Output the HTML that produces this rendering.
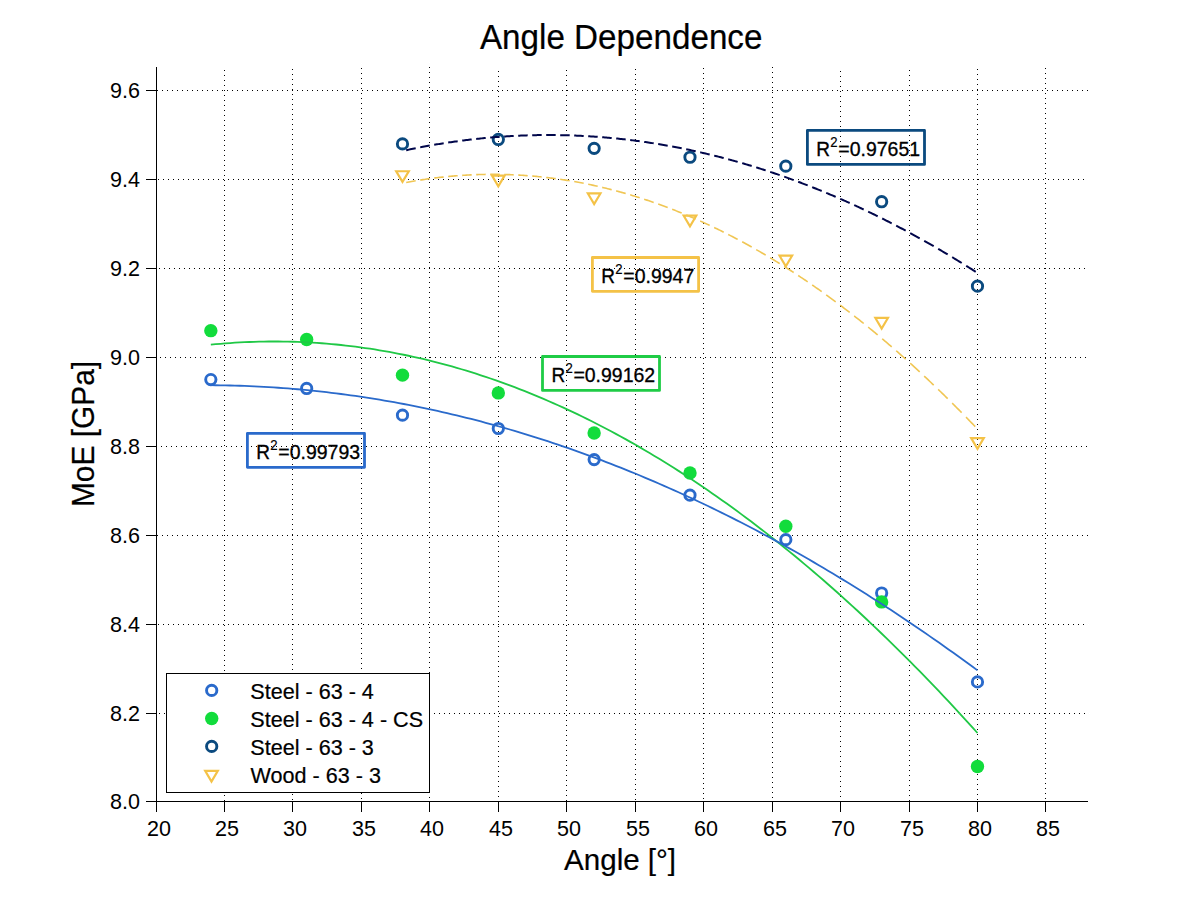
<!DOCTYPE html><html><head><meta charset="utf-8"><style>html,body{margin:0;padding:0;background:#fff;}svg{display:block;font-family:"Liberation Sans",sans-serif;} .b{stroke:#000;stroke-width:0.3px;} .m{stroke:#000;stroke-width:0.2px;}</style></head><body>
<svg width="1201" height="901" viewBox="0 0 1201 901">
<rect width="1201" height="901" fill="#fff"/>
<path d="M224.5 70V801 M292.5 69V801 M361.5 68V801 M429.5 67V801 M498.5 71V801 M566.5 70V801 M635.5 69V801 M703.5 68V801 M772.5 67V801 M840.5 71V801 M909.5 70V801 M977.5 69V801 M1045.5 68V801" stroke="#000" stroke-width="1" stroke-dasharray="1 4" fill="none"/>
<path d="M159 713.5H1088 M158 624.5H1088 M157 535.5H1088 M161 446.5H1088 M160 357.5H1088 M159 268.5H1088 M158 179.5H1088 M157 90.5H1088" stroke="#000" stroke-width="1" stroke-dasharray="1 4" fill="none"/>
<path d="M156.5 67V812 M146 801.5H1088 M156.5 801V812 M224.5 801V812 M292.5 801V812 M361.5 801V812 M429.5 801V812 M498.5 801V812 M566.5 801V812 M635.5 801V812 M703.5 801V812 M772.5 801V812 M840.5 801V812 M909.5 801V812 M977.5 801V812 M1045.5 801V812 M146 801.5H157 M146 713.5H157 M146 624.5H157 M146 535.5H157 M146 446.5H157 M146 357.5H157 M146 268.5H157 M146 179.5H157 M146 90.5H157" stroke="#000" stroke-width="1" fill="none"/>
<text transform="translate(147.00 836.20) scale(0.9800 1.0240)" font-size="22">20</text>
<text transform="translate(215.00 836.20) scale(0.9800 1.0240)" font-size="22">25</text>
<text transform="translate(283.00 836.20) scale(0.9800 1.0240)" font-size="22">30</text>
<text transform="translate(352.00 836.20) scale(0.9800 1.0240)" font-size="22">35</text>
<text transform="translate(420.00 836.20) scale(0.9800 1.0240)" font-size="22">40</text>
<text transform="translate(489.00 836.20) scale(0.9800 1.0240)" font-size="22">45</text>
<text transform="translate(557.00 836.20) scale(0.9800 1.0240)" font-size="22">50</text>
<text transform="translate(626.00 836.20) scale(0.9800 1.0240)" font-size="22">55</text>
<text transform="translate(694.00 836.20) scale(0.9800 1.0240)" font-size="22">60</text>
<text transform="translate(763.00 836.20) scale(0.9800 1.0240)" font-size="22">65</text>
<text transform="translate(831.00 836.20) scale(0.9800 1.0240)" font-size="22">70</text>
<text transform="translate(900.00 836.20) scale(0.9800 1.0240)" font-size="22">75</text>
<text transform="translate(968.00 836.20) scale(0.9800 1.0240)" font-size="22">80</text>
<text transform="translate(1035.99 836.20) scale(0.9800 1.0240)" font-size="22">85</text>
<text transform="translate(110.07 809.00) scale(0.9800 1.0350)" font-size="22">8.0</text>
<text transform="translate(110.07 721.00) scale(0.9800 1.0350)" font-size="22">8.2</text>
<text transform="translate(110.07 632.00) scale(0.9800 1.0350)" font-size="22">8.4</text>
<text transform="translate(110.07 543.00) scale(0.9800 1.0350)" font-size="22">8.6</text>
<text transform="translate(110.07 454.00) scale(0.9800 1.0350)" font-size="22">8.8</text>
<text transform="translate(110.07 365.00) scale(0.9800 1.0350)" font-size="22">9.0</text>
<text transform="translate(110.07 276.00) scale(0.9800 1.0350)" font-size="22">9.2</text>
<text transform="translate(110.07 187.00) scale(0.9800 1.0350)" font-size="22">9.4</text>
<text transform="translate(110.07 98.00) scale(0.9800 1.0350)" font-size="22">9.6</text>
<text transform="translate(479.97 48.90) scale(1.0380 1.0700)" font-size="32" class="m">Angle Dependence</text>
<text transform="translate(564.07 869.80) scale(1.0190 1.0400)" font-size="29" class="m">Angle [°]</text>
<text transform="translate(94.0 507.05) rotate(-90) scale(1.0308 1.05)" font-size="29" class="m">MoE [GPa]</text>
<circle cx="210.83" cy="379.57" r="5.15" fill="none" stroke="#2a6acb" stroke-width="2.9"/>
<circle cx="306.66" cy="388.47" r="5.15" fill="none" stroke="#2a6acb" stroke-width="2.9"/>
<circle cx="402.49" cy="415.15" r="5.15" fill="none" stroke="#2a6acb" stroke-width="2.9"/>
<circle cx="498.32" cy="428.49" r="5.15" fill="none" stroke="#2a6acb" stroke-width="2.9"/>
<circle cx="594.15" cy="459.61" r="5.15" fill="none" stroke="#2a6acb" stroke-width="2.9"/>
<circle cx="689.98" cy="495.18" r="5.15" fill="none" stroke="#2a6acb" stroke-width="2.9"/>
<circle cx="785.81" cy="539.65" r="5.15" fill="none" stroke="#2a6acb" stroke-width="2.9"/>
<circle cx="881.65" cy="593.01" r="5.15" fill="none" stroke="#2a6acb" stroke-width="2.9"/>
<circle cx="977.48" cy="681.94" r="5.15" fill="none" stroke="#2a6acb" stroke-width="2.9"/>
<circle cx="210.83" cy="330.66" r="6.7" fill="#12dc3c"/>
<circle cx="306.66" cy="339.55" r="6.7" fill="#12dc3c"/>
<circle cx="402.49" cy="375.13" r="6.7" fill="#12dc3c"/>
<circle cx="498.32" cy="392.91" r="6.7" fill="#12dc3c"/>
<circle cx="594.15" cy="432.93" r="6.7" fill="#12dc3c"/>
<circle cx="689.98" cy="472.95" r="6.7" fill="#12dc3c"/>
<circle cx="785.81" cy="526.31" r="6.7" fill="#12dc3c"/>
<circle cx="881.65" cy="601.90" r="6.7" fill="#12dc3c"/>
<circle cx="977.48" cy="766.43" r="6.7" fill="#12dc3c"/>
<circle cx="402.49" cy="143.90" r="5.15" fill="none" stroke="#0b4a7f" stroke-width="2.9"/>
<circle cx="498.32" cy="139.46" r="5.15" fill="none" stroke="#0b4a7f" stroke-width="2.9"/>
<circle cx="594.15" cy="148.35" r="5.15" fill="none" stroke="#0b4a7f" stroke-width="2.9"/>
<circle cx="689.98" cy="157.24" r="5.15" fill="none" stroke="#0b4a7f" stroke-width="2.9"/>
<circle cx="785.81" cy="166.14" r="5.15" fill="none" stroke="#0b4a7f" stroke-width="2.9"/>
<circle cx="881.65" cy="201.71" r="5.15" fill="none" stroke="#0b4a7f" stroke-width="2.9"/>
<circle cx="977.48" cy="286.19" r="5.15" fill="none" stroke="#0b4a7f" stroke-width="2.9"/>
<path d="M396.19 171.23H408.79L402.49 181.93Z" fill="none" stroke="#f4c247" stroke-width="2.2" stroke-linejoin="miter"/>
<path d="M492.02 175.68H504.62L498.32 186.38Z" fill="none" stroke="#f4c247" stroke-width="2.2" stroke-linejoin="miter"/>
<path d="M587.85 193.46H600.45L594.15 204.16Z" fill="none" stroke="#f4c247" stroke-width="2.2" stroke-linejoin="miter"/>
<path d="M683.68 215.70H696.28L689.98 226.40Z" fill="none" stroke="#f4c247" stroke-width="2.2" stroke-linejoin="miter"/>
<path d="M779.51 255.71H792.11L785.81 266.41Z" fill="none" stroke="#f4c247" stroke-width="2.2" stroke-linejoin="miter"/>
<path d="M875.35 317.97H887.95L881.65 328.67Z" fill="none" stroke="#f4c247" stroke-width="2.2" stroke-linejoin="miter"/>
<path d="M971.18 438.03H983.78L977.48 448.73Z" fill="none" stroke="#f4c247" stroke-width="2.2" stroke-linejoin="miter"/>
<polyline points="210.83,344.67 215.65,344.21 220.47,343.78 225.30,343.39 230.12,343.03 234.94,342.71 239.76,342.43 244.58,342.18 249.40,341.98 254.23,341.80 259.05,341.67 263.87,341.57 268.69,341.51 273.51,341.49 278.33,341.50 283.16,341.55 287.98,341.63 292.80,341.76 297.62,341.92 302.44,342.11 307.26,342.35 312.09,342.62 316.91,342.92 321.73,343.27 326.55,343.65 331.37,344.07 336.19,344.52 341.02,345.01 345.84,345.54 350.66,346.10 355.48,346.71 360.30,347.34 365.12,348.02 369.95,348.73 374.77,349.48 379.59,350.27 384.41,351.09 389.23,351.95 394.05,352.84 398.88,353.78 403.70,354.75 408.52,355.75 413.34,356.80 418.16,357.88 422.98,358.99 427.81,360.15 432.63,361.34 437.45,362.57 442.27,363.83 447.09,365.13 451.91,366.47 456.74,367.84 461.56,369.25 466.38,370.70 471.20,372.19 476.02,373.71 480.84,375.27 485.67,376.86 490.49,378.50 495.31,380.17 500.13,381.87 504.95,383.62 509.77,385.40 514.60,387.21 519.42,389.06 524.24,390.96 529.06,392.88 533.88,394.85 538.70,396.85 543.53,398.88 548.35,400.96 553.17,403.07 557.99,405.22 562.81,407.40 567.63,409.62 572.46,411.88 577.28,414.18 582.10,416.51 586.92,418.88 591.74,421.28 596.56,423.72 601.39,426.20 606.21,428.72 611.03,431.27 615.85,433.86 620.67,436.49 625.49,439.15 630.32,441.85 635.14,444.59 639.96,447.36 644.78,450.17 649.60,453.02 654.42,455.90 659.25,458.83 664.07,461.78 668.89,464.78 673.71,467.81 678.53,470.88 683.35,473.98 688.18,477.12 693.00,480.30 697.82,483.52 702.64,486.77 707.46,490.06 712.28,493.39 717.11,496.75 721.93,500.15 726.75,503.59 731.57,507.06 736.39,510.57 741.21,514.12 746.04,517.70 750.86,521.32 755.68,524.98 760.50,528.67 765.32,532.40 770.14,536.17 774.97,539.97 779.79,543.82 784.61,547.69 789.43,551.61 794.25,555.56 799.07,559.55 803.90,563.57 808.72,567.64 813.54,571.74 818.36,575.87 823.18,580.04 828.00,584.25 832.83,588.50 837.65,592.78 842.47,597.10 847.29,601.46 852.11,605.85 856.93,610.28 861.76,614.75 866.58,619.26 871.40,623.80 876.22,628.37 881.04,632.99 885.86,637.64 890.69,642.33 895.51,647.05 900.33,651.81 905.15,656.61 909.97,661.45 914.79,666.32 919.62,671.23 924.44,676.18 929.26,681.16 934.08,686.18 938.90,691.23 943.72,696.33 948.55,701.46 953.37,706.62 958.19,711.83 963.01,717.07 967.83,722.35 972.65,727.66 977.48,733.01" fill="none" stroke="#20c846" stroke-width="1.8"/>
<polyline points="210.83,385.21 215.65,385.24 220.47,385.30 225.30,385.38 230.12,385.48 234.94,385.61 239.76,385.76 244.58,385.93 249.40,386.12 254.23,386.33 259.05,386.57 263.87,386.83 268.69,387.11 273.51,387.41 278.33,387.74 283.16,388.08 287.98,388.45 292.80,388.85 297.62,389.26 302.44,389.70 307.26,390.16 312.09,390.64 316.91,391.14 321.73,391.67 326.55,392.21 331.37,392.78 336.19,393.38 341.02,393.99 345.84,394.63 350.66,395.29 355.48,395.97 360.30,396.67 365.12,397.40 369.95,398.14 374.77,398.91 379.59,399.71 384.41,400.52 389.23,401.36 394.05,402.22 398.88,403.10 403.70,404.00 408.52,404.93 413.34,405.88 418.16,406.85 422.98,407.84 427.81,408.86 432.63,409.89 437.45,410.95 442.27,412.03 447.09,413.14 451.91,414.26 456.74,415.41 461.56,416.58 466.38,417.78 471.20,418.99 476.02,420.23 480.84,421.49 485.67,422.77 490.49,424.07 495.31,425.40 500.13,426.75 504.95,428.12 509.77,429.51 514.60,430.93 519.42,432.37 524.24,433.83 529.06,435.31 533.88,436.81 538.70,438.34 543.53,439.89 548.35,441.46 553.17,443.05 557.99,444.67 562.81,446.31 567.63,447.97 572.46,449.65 577.28,451.35 582.10,453.08 586.92,454.83 591.74,456.60 596.56,458.39 601.39,460.21 606.21,462.05 611.03,463.91 615.85,465.79 620.67,467.70 625.49,469.62 630.32,471.57 635.14,473.54 639.96,475.54 644.78,477.55 649.60,479.59 654.42,481.65 659.25,483.73 664.07,485.84 668.89,487.97 673.71,490.12 678.53,492.29 683.35,494.48 688.18,496.70 693.00,498.94 697.82,501.20 702.64,503.48 707.46,505.79 712.28,508.11 717.11,510.46 721.93,512.83 726.75,515.23 731.57,517.65 736.39,520.08 741.21,522.54 746.04,525.03 750.86,527.53 755.68,530.06 760.50,532.61 765.32,535.18 770.14,537.78 774.97,540.39 779.79,543.03 784.61,545.69 789.43,548.38 794.25,551.08 799.07,553.81 803.90,556.56 808.72,559.33 813.54,562.13 818.36,564.94 823.18,567.78 828.00,570.65 832.83,573.53 837.65,576.43 842.47,579.36 847.29,582.31 852.11,585.29 856.93,588.28 861.76,591.30 866.58,594.34 871.40,597.40 876.22,600.48 881.04,603.59 885.86,606.72 890.69,609.87 895.51,613.04 900.33,616.23 905.15,619.45 909.97,622.69 914.79,625.95 919.62,629.24 924.44,632.54 929.26,635.87 934.08,639.22 938.90,642.60 943.72,645.99 948.55,649.41 953.37,652.85 958.19,656.31 963.01,659.79 967.83,663.30 972.65,666.83 977.48,670.38" fill="none" stroke="#2a6acb" stroke-width="1.8"/>
<path d="M406.19 150.20 L407.55 149.91 L408.91 149.62 L410.26 149.34 L411.62 149.06 L412.98 148.79 L414.33 148.51 L415.69 148.24 M420.19 147.36 L421.55 147.10 L422.91 146.84 L424.26 146.59 L425.62 146.34 L426.98 146.09 L428.33 145.84 L429.69 145.60 M434.19 144.82 L435.55 144.58 L436.91 144.36 L438.26 144.13 L439.62 143.91 L440.98 143.69 L442.33 143.47 L443.69 143.26 M448.19 142.56 L449.55 142.36 L450.91 142.16 L452.26 141.97 L453.62 141.77 L454.98 141.58 L456.33 141.39 L457.69 141.21 M462.19 140.61 L463.55 140.43 L464.91 140.26 L466.26 140.09 L467.62 139.93 L468.98 139.77 L470.33 139.61 L471.69 139.45 M476.19 138.95 L477.55 138.80 L478.91 138.66 L480.26 138.52 L481.62 138.38 L482.98 138.24 L484.33 138.11 L485.69 137.98 M490.19 137.58 L491.55 137.46 L492.91 137.34 L494.26 137.23 L495.62 137.12 L496.98 137.02 L498.33 136.91 L499.69 136.81 M504.19 136.50 L505.55 136.41 L506.91 136.33 L508.26 136.24 L509.62 136.16 L510.98 136.08 L512.33 136.01 L513.69 135.94 M518.19 135.72 L519.55 135.66 L520.91 135.60 L522.26 135.55 L523.62 135.49 L524.98 135.45 L526.33 135.40 L527.69 135.36 M532.19 135.23 L533.55 135.20 L534.91 135.17 L536.26 135.14 L537.62 135.12 L538.98 135.10 L540.33 135.08 L541.69 135.07 M546.19 135.04 L547.55 135.03 L548.91 135.03 L550.26 135.04 L551.62 135.04 L552.98 135.05 L554.33 135.06 L555.69 135.07 M560.19 135.14 L561.55 135.16 L562.91 135.19 L564.26 135.22 L565.62 135.25 L566.98 135.29 L568.33 135.33 L569.69 135.37 M574.19 135.53 L575.55 135.58 L576.91 135.64 L578.26 135.70 L579.62 135.76 L580.98 135.83 L582.33 135.89 L583.69 135.96 M588.19 136.22 L589.55 136.30 L590.91 136.38 L592.26 136.47 L593.62 136.56 L594.98 136.66 L596.33 136.75 L597.69 136.85 M602.19 137.20 L603.55 137.31 L604.91 137.42 L606.26 137.54 L607.62 137.66 L608.98 137.78 L610.33 137.90 L611.69 138.03 M616.19 138.47 L617.55 138.61 L618.91 138.75 L620.26 138.90 L621.62 139.04 L622.98 139.20 L624.33 139.35 L625.69 139.50 M630.19 140.04 L631.55 140.21 L632.91 140.38 L634.26 140.55 L635.62 140.73 L636.98 140.91 L638.33 141.09 L639.69 141.27 M644.19 141.90 L645.55 142.10 L646.91 142.30 L648.26 142.50 L649.62 142.70 L650.98 142.91 L652.33 143.12 L653.69 143.33 M658.19 144.06 L659.55 144.28 L660.91 144.51 L662.26 144.74 L663.62 144.97 L664.98 145.21 L666.33 145.45 L667.69 145.69 M672.19 146.51 L673.55 146.76 L674.91 147.02 L676.26 147.27 L677.62 147.54 L678.98 147.80 L680.33 148.07 L681.69 148.34 M686.19 149.25 L687.55 149.53 L688.91 149.82 L690.26 150.10 L691.62 150.39 L692.98 150.69 L694.33 150.98 L695.69 151.28 M700.19 152.29 L701.55 152.60 L702.91 152.91 L704.26 153.23 L705.62 153.54 L706.98 153.86 L708.33 154.19 L709.69 154.52 M714.19 155.62 L715.55 155.96 L716.91 156.30 L718.26 156.64 L719.62 156.99 L720.98 157.34 L722.33 157.69 L723.69 158.05 M728.19 159.24 L729.55 159.61 L730.91 159.98 L732.26 160.35 L733.62 160.73 L734.98 161.10 L736.33 161.49 L737.69 161.87 M742.19 163.16 L743.55 163.56 L744.91 163.95 L746.26 164.35 L747.62 164.76 L748.98 165.17 L750.33 165.57 L751.69 165.99 M756.19 167.37 L757.55 167.80 L758.91 168.22 L760.26 168.65 L761.62 169.08 L762.98 169.52 L764.33 169.96 L765.69 170.40 M770.19 171.88 L771.55 172.33 L772.91 172.79 L774.26 173.24 L775.62 173.70 L776.98 174.17 L778.33 174.63 L779.69 175.10 M784.19 176.68 L785.55 177.16 L786.91 177.64 L788.26 178.13 L789.62 178.62 L790.98 179.11 L792.33 179.60 L793.69 180.10 M798.19 181.77 L799.55 182.28 L800.91 182.79 L802.26 183.31 L803.62 183.82 L804.98 184.34 L806.33 184.87 L807.69 185.39 M812.19 187.16 L813.55 187.70 L814.91 188.24 L816.26 188.78 L817.62 189.33 L818.98 189.87 L820.33 190.43 L821.69 190.98 M826.19 192.84 L827.55 193.40 L828.91 193.97 L830.26 194.55 L831.62 195.12 L832.98 195.70 L834.33 196.28 L835.69 196.86 M840.19 198.81 L841.55 199.41 L842.91 200.00 L844.26 200.61 L845.62 201.21 L846.98 201.81 L848.33 202.42 L849.69 203.03 M854.19 205.08 L855.55 205.70 L856.91 206.33 L858.26 206.96 L859.62 207.59 L860.98 208.22 L862.33 208.86 L863.69 209.50 M868.19 211.64 L869.55 212.29 L870.91 212.95 L872.26 213.61 L873.62 214.27 L874.98 214.93 L876.33 215.59 L877.69 216.26 M882.19 218.50 L883.55 219.18 L884.91 219.86 L886.26 220.55 L887.62 221.24 L888.98 221.93 L890.33 222.62 L891.69 223.32 M896.19 225.65 L897.55 226.36 L898.91 227.07 L900.26 227.78 L901.62 228.50 L902.98 229.22 L904.33 229.94 L905.69 230.67 M910.19 233.09 L911.55 233.83 L912.91 234.57 L914.26 235.31 L915.62 236.06 L916.98 236.80 L918.33 237.55 L919.69 238.31 M924.19 240.83 L925.55 241.59 L926.91 242.36 L928.26 243.13 L929.62 243.91 L930.98 244.68 L932.33 245.46 L933.69 246.24 M938.19 248.86 L939.55 249.65 L940.91 250.45 L942.26 251.25 L943.62 252.05 L944.98 252.86 L946.33 253.66 L947.69 254.47 M952.19 257.18 L953.55 258.00 L954.91 258.83 L956.26 259.66 L957.62 260.49 L958.98 261.32 L960.33 262.16 L961.69 263.00 M966.19 265.80 L967.55 266.65 L968.91 267.51 L970.26 268.36 L971.62 269.22 L972.98 270.08 L974.33 270.95 L975.69 271.82" fill="none" stroke="#00064a" stroke-width="2"/>
<path d="M406.19 182.47 L407.55 182.22 L408.91 181.97 L410.26 181.73 L411.62 181.49 L412.98 181.25 L414.33 181.02 L415.69 180.79 M420.19 180.06 L421.55 179.85 L422.91 179.64 L424.26 179.44 L425.62 179.24 L426.98 179.04 L428.33 178.85 L429.69 178.66 M434.19 178.07 L435.55 177.90 L436.91 177.74 L438.26 177.57 L439.62 177.42 L440.98 177.26 L442.33 177.11 L443.69 176.96 M448.19 176.51 L449.55 176.38 L450.91 176.25 L452.26 176.13 L453.62 176.02 L454.98 175.90 L456.33 175.79 L457.69 175.69 M462.19 175.37 L463.55 175.28 L464.91 175.20 L466.26 175.12 L467.62 175.04 L468.98 174.97 L470.33 174.90 L471.69 174.84 M476.19 174.66 L477.55 174.61 L478.91 174.57 L480.26 174.53 L481.62 174.49 L482.98 174.46 L484.33 174.44 L485.69 174.41 M490.19 174.37 L491.55 174.36 L492.91 174.36 L494.26 174.36 L495.62 174.37 L496.98 174.38 L498.33 174.39 L499.69 174.41 M504.19 174.50 L505.55 174.54 L506.91 174.58 L508.26 174.62 L509.62 174.67 L510.98 174.72 L512.33 174.78 L513.69 174.84 M518.19 175.06 L519.55 175.14 L520.91 175.22 L522.26 175.31 L523.62 175.40 L524.98 175.49 L526.33 175.58 L527.69 175.69 M532.19 176.05 L533.55 176.17 L534.91 176.29 L536.26 176.42 L537.62 176.55 L538.98 176.68 L540.33 176.82 L541.69 176.96 M546.19 177.46 L547.55 177.62 L548.91 177.78 L550.26 177.95 L551.62 178.12 L552.98 178.30 L554.33 178.47 L555.69 178.66 M560.19 179.29 L561.55 179.49 L562.91 179.70 L564.26 179.91 L565.62 180.12 L566.98 180.34 L568.33 180.56 L569.69 180.78 M574.19 181.55 L575.55 181.80 L576.91 182.04 L578.26 182.29 L579.62 182.54 L580.98 182.80 L582.33 183.06 L583.69 183.33 M588.19 184.24 L589.55 184.52 L590.91 184.81 L592.26 185.10 L593.62 185.39 L594.98 185.69 L596.33 186.00 L597.69 186.30 M602.19 187.35 L603.55 187.67 L604.91 188.00 L606.26 188.33 L607.62 188.67 L608.98 189.01 L610.33 189.35 L611.69 189.70 M616.19 190.88 L617.55 191.25 L618.91 191.62 L620.26 191.99 L621.62 192.37 L622.98 192.75 L624.33 193.13 L625.69 193.52 M630.19 194.84 L631.55 195.25 L632.91 195.66 L634.26 196.07 L635.62 196.49 L636.98 196.91 L638.33 197.34 L639.69 197.77 M644.19 199.23 L645.55 199.67 L646.91 200.12 L648.26 200.58 L649.62 201.04 L650.98 201.50 L652.33 201.97 L653.69 202.44 M658.19 204.03 L659.55 204.52 L660.91 205.02 L662.26 205.51 L663.62 206.01 L664.98 206.52 L666.33 207.03 L667.69 207.54 M672.19 209.27 L673.55 209.80 L674.91 210.33 L676.26 210.87 L677.62 211.41 L678.98 211.96 L680.33 212.51 L681.69 213.06 M686.19 214.93 L687.55 215.50 L688.91 216.07 L690.26 216.65 L691.62 217.23 L692.98 217.82 L694.33 218.41 L695.69 219.01 M700.19 221.01 L701.55 221.62 L702.91 222.24 L704.26 222.86 L705.62 223.48 L706.98 224.11 L708.33 224.74 L709.69 225.38 M714.19 227.52 L715.55 228.17 L716.91 228.83 L718.26 229.49 L719.62 230.15 L720.98 230.82 L722.33 231.50 L723.69 232.17 M728.19 234.45 L729.55 235.14 L730.91 235.84 L732.26 236.54 L733.62 237.25 L734.98 237.96 L736.33 238.68 L737.69 239.39 M742.19 241.81 L743.55 242.54 L744.91 243.28 L746.26 244.03 L747.62 244.77 L748.98 245.53 L750.33 246.28 L751.69 247.04 M756.19 249.59 L757.55 250.37 L758.91 251.15 L760.26 251.93 L761.62 252.72 L762.98 253.51 L764.33 254.31 L765.69 255.11 M770.19 257.80 L771.55 258.61 L772.91 259.44 L774.26 260.26 L775.62 261.09 L776.98 261.93 L778.33 262.76 L779.69 263.61 M784.19 266.43 L785.55 267.29 L786.91 268.15 L788.26 269.02 L789.62 269.89 L790.98 270.76 L792.33 271.64 L793.69 272.53 M798.19 275.48 L799.55 276.38 L800.91 277.29 L802.26 278.20 L803.62 279.11 L804.98 280.03 L806.33 280.95 L807.69 281.87 M812.19 284.97 L813.55 285.91 L814.91 286.85 L816.26 287.80 L817.62 288.76 L818.98 289.71 L820.33 290.68 L821.69 291.64 M826.19 294.87 L827.55 295.85 L828.91 296.84 L830.26 297.83 L831.62 298.83 L832.98 299.83 L834.33 300.83 L835.69 301.84 M840.19 305.20 L841.55 306.23 L842.91 307.25 L844.26 308.29 L845.62 309.32 L846.98 310.36 L848.33 311.41 L849.69 312.45 M854.19 315.96 L855.55 317.02 L856.91 318.09 L858.26 319.17 L859.62 320.24 L860.98 321.32 L862.33 322.41 L863.69 323.50 M868.19 327.14 L869.55 328.25 L870.91 329.36 L872.26 330.47 L873.62 331.59 L874.98 332.71 L876.33 333.84 L877.69 334.97 M882.19 338.74 L883.55 339.89 L884.91 341.04 L886.26 342.20 L887.62 343.36 L888.98 344.52 L890.33 345.69 L891.69 346.86 M896.19 350.77 L897.55 351.96 L898.91 353.16 L900.26 354.35 L901.62 355.55 L902.98 356.76 L904.33 357.97 L905.69 359.18 M910.19 363.23 L911.55 364.46 L912.91 365.69 L914.26 366.93 L915.62 368.17 L916.98 369.42 L918.33 370.67 L919.69 371.92 M924.19 376.11 L925.55 377.38 L926.91 378.66 L928.26 379.93 L929.62 381.22 L930.98 382.50 L932.33 383.80 L933.69 385.09 M938.19 389.41 L939.55 390.73 L940.91 392.04 L942.26 393.36 L943.62 394.69 L944.98 396.02 L946.33 397.35 L947.69 398.68 M952.19 403.14 L953.55 404.50 L954.91 405.85 L956.26 407.21 L957.61 408.57 L958.95 409.92 L960.29 411.28 L961.63 412.64 M966.04 417.14 L967.36 418.50 L968.68 419.85 L969.99 421.21 L971.30 422.57 L972.61 423.92 L973.91 425.28 L975.21 426.64" fill="none" stroke="#f0c654" stroke-width="1.6"/>
<rect x="247.40" y="433.40" width="117.10" height="33.90" fill="none" stroke="#2a6acb" stroke-width="2.8" stroke-linejoin="round"/><text transform="translate(256.30 459.00) scale(1.0000 1.0700)" font-size="19" class="b">R</text><text transform="translate(270.30 450.00) scale(0.9400 1.0250)" font-size="14" class="m">2</text><text transform="translate(278.30 459.00) scale(1.0260 1.0700)" font-size="19" class="b">=0.99793</text>
<rect x="592.40" y="257.50" width="106.20" height="33.80" fill="none" stroke="#f4c247" stroke-width="2.8" stroke-linejoin="round"/><text transform="translate(601.30 283.10) scale(1.0000 1.0700)" font-size="19" class="b">R</text><text transform="translate(615.29 274.10) scale(0.9400 1.0250)" font-size="14" class="m">2</text><text transform="translate(623.30 283.10) scale(1.0260 1.0700)" font-size="19" class="b">=0.9947</text>
<rect x="542.50" y="356.50" width="117.00" height="33.90" fill="none" stroke="#1fcc46" stroke-width="2.8" stroke-linejoin="round"/><text transform="translate(551.40 382.10) scale(1.0000 1.0700)" font-size="19" class="b">R</text><text transform="translate(565.39 373.10) scale(0.9400 1.0250)" font-size="14" class="m">2</text><text transform="translate(573.40 382.10) scale(1.0260 1.0700)" font-size="19" class="b">=0.99162</text>
<rect x="807.40" y="130.40" width="117.10" height="34.00" fill="none" stroke="#0b4a7f" stroke-width="2.8" stroke-linejoin="round"/><text transform="translate(816.30 156.00) scale(1.0000 1.0700)" font-size="19" class="b">R</text><text transform="translate(830.29 147.00) scale(0.9400 1.0250)" font-size="14" class="m">2</text><text transform="translate(838.30 156.00) scale(1.0260 1.0700)" font-size="19" class="b">=0.97651</text>
<rect x="166.5" y="673.5" width="263" height="119" fill="#fff" stroke="#000" stroke-width="1"/>
<circle cx="211.70" cy="690.40" r="5.15" fill="none" stroke="#2a6acb" stroke-width="2.9"/>
<circle cx="211.70" cy="718.50" r="6.7" fill="#12dc3c"/>
<circle cx="211.70" cy="746.40" r="5.15" fill="none" stroke="#0b4a7f" stroke-width="2.9"/>
<path d="M205.20 770.80H217.80L211.50 781.50Z" fill="none" stroke="#f4c247" stroke-width="2.2" stroke-linejoin="miter"/>
<text transform="translate(250.25 698.50) scale(1.0806 1.1100)" font-size="20" class="m">Steel - 63 - 4</text>
<text transform="translate(250.25 726.57) scale(1.0806 1.1100)" font-size="20" class="m">Steel - 63 - 4 - CS</text>
<text transform="translate(250.25 754.64) scale(1.0806 1.1100)" font-size="20" class="m">Steel - 63 - 3</text>
<text transform="translate(250.56 782.71) scale(1.0806 1.1100)" font-size="20" class="m">Wood - 63 - 3</text>
</svg></body></html>
